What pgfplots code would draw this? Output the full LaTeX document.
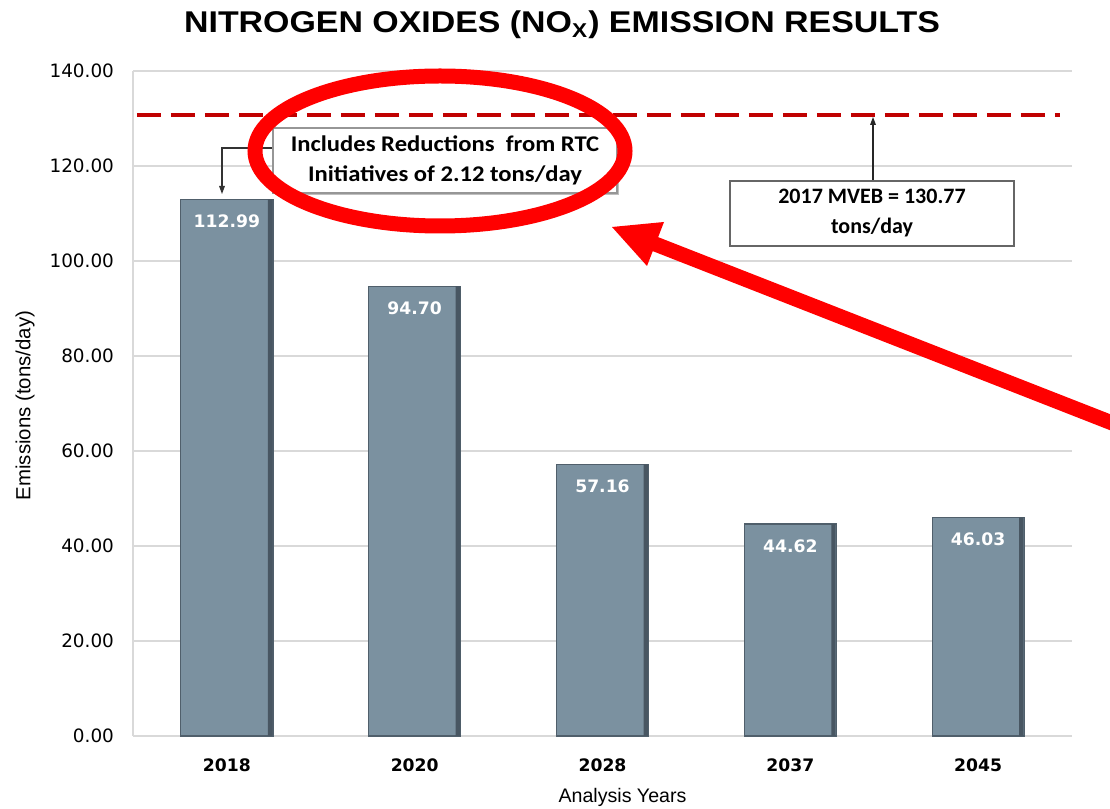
\documentclass[border=0pt]{standalone}
\usepackage{fontspec}
\setmainfont{DejaVu Sans}
\newfontfamily\titlefont{Liberation Sans}
\newfontfamily\arialf{Liberation Sans}
\newfontfamily\calib{Carlito}
\usepackage{graphicx}
\usepackage{pgfplots}
\pgfplotsset{compat=1.18}
\definecolor{barfill}{RGB}{123,145,160}
\definecolor{barright}{RGB}{72,86,98}
\definecolor{baredge}{RGB}{80,95,107}
\definecolor{gridgray}{RGB}{217,217,217}
\definecolor{boxgray}{RGB}{150,150,150}
\definecolor{mveb}{RGB}{192,0,0}
\begin{document}
\begin{tikzpicture}
\path[use as bounding box] (0,0) rectangle (555pt,404.5pt);
\begin{axis}[
  at={(66.5pt,36.5pt)}, anchor=south west,
  scale only axis, width=469.5pt, height=332.5pt,
  xmin=-0.5, xmax=4.5, ymin=0, ymax=140,
  ytick={0,20,...,140},
  xtick={0,1,2,3,4}, xticklabels={2018,2020,2028,2037,2045},
  axis x line=bottom, axis y line=left,
  axis line style={gridgray, line width=1pt, -},
  major tick length=0pt,
  ymajorgrids, grid style={gridgray, line width=1pt},
  yticklabel style={/pgf/number format/fixed, /pgf/number format/fixed zerofill,
    /pgf/number format/precision=2, /pgf/number format/assume math mode=true,
    font=\fontsize{9.2}{11}\selectfont, xshift=-6pt},
  xticklabel style={font=\bfseries\fontsize{8.6}{11}\selectfont, yshift=-8pt},
  xlabel={Analysis Years}, ylabel={Emissions (tons/day)},
  every axis x label/.style={at={(axis description cs:0.5,0)}, anchor=center,
    yshift=-30.5pt, xshift=10pt, font=\arialf\fontsize{9.8}{11}\selectfont},
  every axis y label/.style={at={(axis description cs:0,0.5)}, anchor=center,
    xshift=-54pt, yshift=-1pt, rotate=90, font=\arialf\fontsize{10.2}{11}\selectfont},
  clip=false,
]
\addplot[ybar, bar width=46pt, bar shift=0pt, fill=barfill, draw=baredge, line width=0.6pt,
  point meta=explicit symbolic, nodes near coords,
  every node near coord/.append style={anchor=center, yshift=-11pt, white,
    inner sep=0pt, font=\bfseries\fontsize{8.6}{11}\selectfont}]
  coordinates {(0,112.99) [112.99] (1,94.70) [94.70] (2,57.16) [57.16] (3,44.62) [44.62] (4,46.03) [46.03]};
\addplot[ybar, bar width=2.2pt, bar shift=21.6pt, fill=barright, draw=none]
  coordinates {(0,112.99) (1,94.70) (2,57.16) (3,44.62) (4,46.03)};
\addplot[mveb, line width=1.7pt, dash pattern=on 12pt off 5pt] coordinates {(-0.479,130.77) (4.436,130.77)};
\end{axis}
% title
\node[font=\titlefont\bfseries\fontsize{15}{17}\selectfont] at (281pt,392pt)
  {\scalebox{1.13}[1]{NITROGEN OXIDES (NO\textsubscript{\fontsize{10}{10}\selectfont X}) EMISSION RESULTS}};
\begin{scope}[x=0.5pt, y=-0.5pt, shift={(0,404.5pt)}]
  \clip (0,0) rectangle (1110,809);
  % box 1
  \draw[black!80, line width=0.8pt] (273,148) -- (222,148) -- (222,191);
  \fill[black!80] (222,194) -- (219,186) -- (225,186) -- cycle;
  \fill[black!25] (275,130) rectangle (619,195);
  \node[draw=boxgray, fill=white, line width=0.7pt, minimum width=172pt, minimum height=32.5pt,
    inner sep=0pt, align=center, font=\calib\bfseries\fontsize{11.2}{15}\selectfont]
    at (445,160.5) {\scalebox{1.1}[1]{Includes Reductions\ \ from RTC}\\\scalebox{1.1}[1]{Initiatives of 2.12 tons/day}};
  % box 2
  \draw[black!85, line width=0.8pt] (873,181) -- (873,122);
  \fill[black!85] (873,117) -- (870,125) -- (876,125) -- cycle;
  \node[draw=black!60, fill=white, line width=0.8pt, minimum width=142pt, minimum height=32.5pt,
    inner sep=0pt, align=center, font=\calib\bfseries\fontsize{11}{15}\selectfont]
    at (872,213.5) {2017 MVEB = 130.77\\tons/day};
  % red ellipse
  \draw[red, line width=7.5pt] (440,151) ellipse [x radius=185, y radius=75];
  % red arrow
  \draw[red, line width=7.5pt] (650,242) -- (1130,430);
  \fill[red] (612,227) -- (664,222) -- (647,266) -- cycle;
\end{scope}
\end{tikzpicture}
\end{document}
